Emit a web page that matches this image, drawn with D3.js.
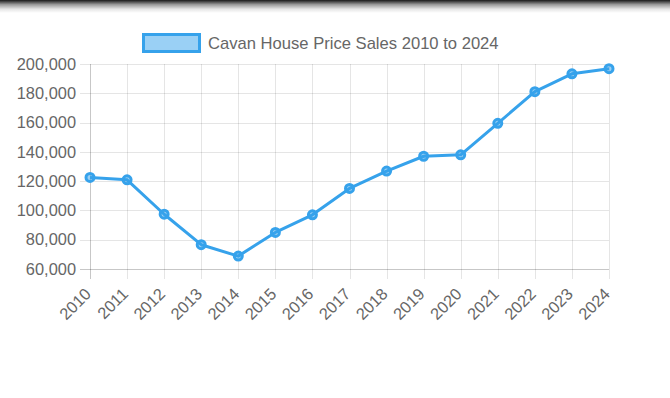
<!DOCTYPE html>
<html>
<head>
<meta charset="utf-8">
<script src="https://cdn.jsdelivr.net/npm/d3@7"></script>
<style>
  html, body { margin: 0; padding: 0; background: #fff; }
  body { width: 670px; height: 398px; overflow: hidden; position: relative; font-family: "Liberation Sans", Arial, Helvetica, sans-serif; }
  .shade { position: absolute; left: 0; top: 0; width: 670px; height: 13px;
    background: linear-gradient(to bottom, rgba(0,0,0,0.9), rgba(0,0,0,0.4) 35%, rgba(0,0,0,0.1) 70%, rgba(0,0,0,0)); }
  svg { position: absolute; left: 0; top: 0; }
</style>
</head>
<body>
<div class="shade"></div>
<svg id="chart" width="670" height="398"></svg>
<script>
const years = ["2010","2011","2012","2013","2014","2015","2016","2017","2018","2019","2020","2021","2022","2023","2024"];
const prices = [122500, 120900, 97400, 76600, 68800, 85000, 97000, 115000, 126900, 137000, 138000, 159500, 181100, 193300, 196800];
const yTicks = [60000, 80000, 100000, 120000, 140000, 160000, 180000, 200000];
const seriesLabel = "Cavan House Price Sales 2010 to 2024";

const svg = d3.select("#chart");
const pLeft = 90, pRight = 609, pTop = 64, pBottom = 269;
const blue = "rgb(54,162,235)";
const textColor = "#666";
const fs = 16.4;

const x = d3.scalePoint().domain(years).range([pLeft, pRight]);
const y = d3.scaleLinear().domain([60000, 200000]).range([pBottom, pTop]);

// horizontal grid
const gy = svg.append("g");
gy.selectAll("line").data(yTicks).join("line")
  .attr("x1", pLeft - 10).attr("x2", pRight)
  .attr("y1", d => Math.round(y(d)) + 0.5).attr("y2", d => Math.round(y(d)) + 0.5)
  .attr("stroke", d => d === 60000 ? "rgba(0,0,0,0.22)" : "rgba(0,0,0,0.1)")
  .attr("stroke-width", 1);
gy.selectAll("text").data(yTicks).join("text")
  .attr("x", pLeft - 14).attr("y", d => y(d))
  .attr("dy", "0.35em")
  .attr("text-anchor", "end")
  .attr("font-size", fs).attr("fill", textColor)
  .text(d => d3.format(",")(d));

// vertical grid
const gx = svg.append("g");
gx.selectAll("line").data(years).join("line")
  .attr("x1", d => Math.round(x(d)) + 0.5).attr("x2", d => Math.round(x(d)) + 0.5)
  .attr("y1", pTop).attr("y2", pBottom + 10)
  .attr("stroke", (d, i) => i === 0 ? "rgba(0,0,0,0.22)" : "rgba(0,0,0,0.1)")
  .attr("stroke-width", 1);
gx.selectAll("text").data(years).join("text")
  .attr("transform", d => `translate(${x(d) - 2},${pBottom + 22}) rotate(-45)`)
  .attr("text-anchor", "end")
  .attr("dy", "0.35em")
  .attr("font-size", fs).attr("fill", textColor)
  .text(d => d);

// line
const line = d3.line().x((d, i) => x(years[i])).y(d => y(d));
svg.append("path").datum(prices)
  .attr("d", line)
  .attr("fill", "none").attr("stroke", blue).attr("stroke-width", 3)
  .attr("stroke-linejoin", "round");

svg.append("g").selectAll("circle").data(prices).join("circle")
  .attr("cx", (d, i) => x(years[i])).attr("cy", d => y(d))
  .attr("r", 4)
  .attr("fill", "rgba(54,162,235,0.5)")
  .attr("stroke", blue).attr("stroke-width", 3);

// legend
const lg = svg.append("g");
lg.append("rect").attr("x", 143.5).attr("y", 34.5).attr("width", 56).attr("height", 17)
  .attr("fill", "rgba(54,162,235,0.5)").attr("stroke", blue).attr("stroke-width", 3);
lg.append("text").attr("x", 208).attr("y", 43).attr("dy", "0.35em")
  .attr("font-size", 16.6).attr("fill", textColor).text(seriesLabel);
</script>
</body>
</html>
